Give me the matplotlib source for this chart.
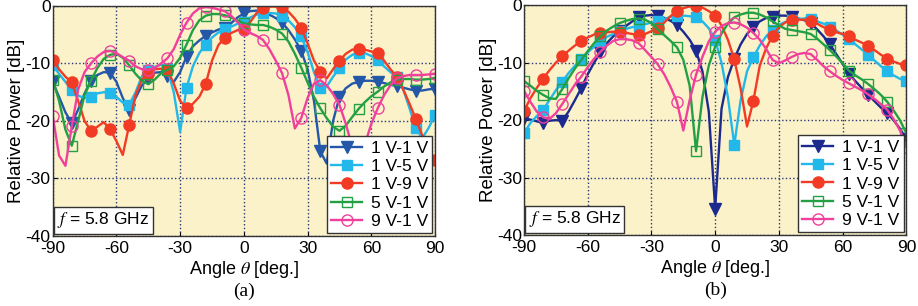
import numpy as np
import matplotlib
matplotlib.use('Agg')
import matplotlib.pyplot as plt

plt.rcParams['font.family'] = ['Liberation Sans', 'DejaVu Sans']
plt.rcParams['mathtext.fontset'] = 'stix'
plt.rcParams['axes.unicode_minus'] = False

# angles every 3 deg, markers every 9 deg
angle = np.arange(-90, 91, 3)
labels = ['1 V-1 V', '1 V-5 V', '1 V-9 V', '5 V-1 V', '9 V-1 V']

# ---- panel (a)
a_11 = [-13.2, -15.8, -18.5, -20.4, -18.0, -15.2, -13.0, -12.0, -11.5, -11.6, -13.2, -16.0,
        -18.1, -16.0, -13.8, -12.6, -11.6, -11.5, -12.2, -13.2, -11.5, -8.8, -7.0, -6.0,
        -5.2, -4.6, -4.1, -3.8, -3.0, -2.0, -1.3, -0.9, -0.8, -1.1, -1.5, -2.1,
        -2.9, -4.2, -5.8, -7.8, -11.0, -16.5, -25.3, -27.4, -20.0, -15.8, -14.3, -13.5,
        -13.2, -13.0, -13.0, -13.2, -13.4, -13.7, -13.9, -14.2, -14.5, -14.7, -14.7, -14.5, -14.4]
a_15 = [-10.3, -11.8, -13.2, -14.6, -15.6, -16.0, -15.8, -15.2, -15.0, -15.1, -15.8, -16.8,
        -17.2, -15.0, -12.2, -11.1, -10.6, -10.2, -11.0, -15.0, -21.9, -14.2, -10.5, -8.2,
        -6.7, -5.5, -4.6, -4.0, -3.6, -3.1, -2.7, -2.0, -1.5, -1.3, -1.2, -1.3,
        -1.7, -2.5, -3.7, -5.3, -8.0, -11.5, -14.2, -14.0, -12.3, -10.8, -9.3, -8.5,
        -8.1, -8.2, -8.7, -9.4, -10.5, -11.5, -12.4, -14.5, -17.8, -21.3, -23.0, -21.2, -19.0]
a_19 = [-9.4, -11.0, -12.3, -13.3, -16.5, -20.0, -21.7, -21.0, -20.2, -21.4, -23.5, -25.9,
        -20.7, -15.5, -12.8, -11.8, -11.0, -10.9, -11.1, -13.5, -16.5, -17.7, -17.0, -15.8,
        -13.6, -9.5, -6.8, -5.5, -4.7, -4.2, -4.0, -2.8, -1.2, -0.4, -0.1, -0.1,
        -0.2, -1.0, -2.2, -3.8, -6.5, -9.5, -11.4, -12.6, -11.0, -9.5, -8.3, -7.6,
        -7.4, -7.6, -7.9, -8.2, -9.5, -11.0, -12.3, -14.5, -17.0, -19.7, -22.5, -25.0, -26.8]
a_51 = [-12.8, -16.5, -21.5, -24.3, -20.0, -15.5, -13.0, -10.8, -9.2, -8.5, -8.3, -9.0,
        -10.3, -11.8, -13.0, -13.6, -12.8, -11.7, -11.1, -10.5, -9.0, -6.7, -4.2, -2.5,
        -1.7, -1.4, -1.4, -1.6, -2.0, -2.5, -3.0, -3.2, -3.3, -3.3, -3.6, -4.1,
        -4.8, -6.2, -8.3, -10.7, -13.3, -15.8, -17.8, -19.5, -21.0, -21.7, -20.8, -19.3,
        -17.9, -16.7, -15.7, -14.9, -14.0, -13.3, -12.8, -12.7, -12.7, -12.8, -12.8, -12.7, -12.5]
a_91 = [-19.1, -26.0, -27.8, -20.9, -14.5, -11.5, -10.0, -8.8, -8.0, -7.8, -8.2, -8.9,
        -9.5, -10.5, -11.0, -11.1, -10.8, -10.0, -9.1, -7.5, -5.0, -2.9, -1.3, -0.4,
        -0.2, -0.3, -0.6, -0.9, -1.7, -2.8, -4.1, -4.7, -5.2, -5.9, -7.5, -9.5,
        -11.7, -15.5, -21.3, -19.5, -16.0, -13.5, -12.9, -13.8, -15.3, -17.2, -20.5, -24.5,
        -27.0, -24.0, -20.5, -17.8, -15.5, -13.8, -12.6, -12.2, -12.0, -12.0, -12.0, -11.9, -11.8]

# ---- panel (b)
b_11 = [-19.7, -19.9, -20.2, -20.5, -20.1, -20.0, -20.1, -18.5, -16.5, -14.4, -12.0, -10.0,
        -8.2, -6.6, -5.4, -4.5, -3.6, -2.8, -2.1, -1.8, -1.7, -1.9, -2.2, -2.7,
        -3.4, -4.6, -6.0, -7.9, -11.5, -18.5, -35.4, -18.0, -12.5, -9.3, -6.8, -5.0,
        -3.7, -2.8, -2.2, -2.0, -1.8, -1.8, -2.0, -2.3, -2.6, -3.1, -4.2, -5.4,
        -6.8, -8.5, -10.2, -11.9, -13.2, -14.4, -15.6, -16.7, -17.8, -18.8, -20.0, -21.5, -23.3]
b_15 = [-22.3, -20.5, -19.3, -18.2, -16.5, -14.8, -13.3, -11.8, -10.5, -9.4, -8.2, -7.2,
        -6.3, -5.5, -5.0, -4.5, -4.1, -3.8, -3.6, -3.3, -3.0, -2.8, -2.4, -2.0,
        -1.8, -1.8, -1.9, -2.1, -2.8, -4.0, -6.0, -10.0, -16.0, -24.3, -16.5, -11.5,
        -9.0, -7.0, -5.4, -4.3, -3.4, -2.9, -2.6, -2.4, -2.3, -2.4, -2.8, -3.2,
        -3.7, -4.4, -5.1, -5.9, -6.8, -7.7, -8.6, -9.6, -10.6, -11.5, -12.2, -12.8, -13.2]
b_19 = [-18.4, -16.2, -14.4, -12.8, -11.3, -10.0, -8.9, -7.9, -7.0, -6.2, -5.6, -5.1,
        -4.8, -4.7, -4.6, -4.6, -4.8, -5.0, -5.2, -5.0, -4.5, -4.0, -3.0, -1.9,
        -1.0, -0.5, -0.2, -0.1, -0.4, -1.0, -1.8, -3.5, -6.0, -9.4, -14.5, -21.1,
        -16.6, -10.5, -7.5, -5.3, -3.8, -3.0, -2.6, -2.5, -2.5, -2.7, -3.2, -3.8,
        -4.3, -4.7, -5.0, -5.4, -6.0, -6.5, -7.1, -7.8, -8.6, -9.3, -9.8, -10.2, -10.4]
b_51 = [-13.2, -14.0, -14.9, -15.6, -16.2, -16.3, -14.6, -12.7, -11.0, -9.5, -8.0, -6.6,
        -5.4, -4.4, -3.7, -3.1, -2.7, -2.4, -2.3, -2.5, -3.1, -4.2, -5.2, -6.2,
        -7.3, -9.5, -14.0, -25.4, -16.0, -10.5, -7.2, -4.9, -3.2, -2.1, -1.6, -1.3,
        -1.3, -1.6, -2.1, -2.8, -3.5, -4.1, -4.3, -4.5, -4.7, -5.0, -5.8, -6.8,
        -7.8, -8.9, -10.1, -11.4, -12.2, -12.9, -13.7, -14.6, -15.6, -16.8, -18.3, -20.0, -22.3]
b_91 = [-14.9, -16.8, -18.5, -19.5, -19.8, -18.8, -17.2, -15.5, -13.8, -12.4, -10.8, -9.3,
        -8.1, -7.0, -6.2, -5.9, -5.9, -6.1, -6.6, -7.8, -9.0, -10.3, -12.0, -14.2,
        -16.8, -21.8, -16.5, -12.1, -9.0, -6.3, -4.6, -3.6, -3.1, -3.0, -3.3, -3.9,
        -4.8, -6.0, -7.6, -9.5, -10.1, -9.6, -9.0, -8.5, -8.3, -8.5, -9.5, -10.6,
        -11.5, -12.3, -13.0, -13.6, -14.2, -14.8, -15.5, -16.3, -17.2, -18.2, -19.8, -21.8, -24.7]

series_a = [a_11, a_15, a_19, a_51, a_91]
series_b = [b_11, b_15, b_19, b_51, b_91]
colors_a = ['#2457A8', '#22B8EA', '#F23B25', '#22A043', '#F0409C']
colors_b = ['#1B2A8C', '#22B8EA', '#F23B25', '#22A043', '#F0409C']
markers = ['v', 's', 'o', 's', 'o']
filled = [True, True, True, False, False]
msizes = [8, 7.5, 8, 7.5, 8]

fig = plt.figure(figsize=(9.18, 3.06), dpi=100)
ax_a = fig.add_axes([0.0574, 0.2288, 0.4165, 0.7516])
ax_b = fig.add_axes([0.5708, 0.2320, 0.4165, 0.7507])

for ax, series, colors, tag in [(ax_a, series_a, colors_a, '(a)'), (ax_b, series_b, colors_b, '(b)')]:
    ax.set_facecolor('#FBF2C9')
    for i, (vals, c) in enumerate(zip(series, colors)):
        ax.plot(angle, vals, color=c, lw=1.7, marker=markers[i], ms=msizes[i],
                mfc=c if filled[i] else 'none', mec=c, mew=1.0, markevery=3,
                label=labels[i])
    ax.set_xlim(-90, 90)
    ax.set_ylim(-40, 0)
    ax.set_xticks(np.arange(-90, 91, 30))
    ax.set_yticks(np.arange(-40, 1, 10))
    ax.grid(True, color='#27357A', linestyle=':', linewidth=1.0)
    ax.tick_params(direction='in', labelsize=12.5, length=3)
    ax.tick_params(axis='x', pad=3.5)
    ax.tick_params(axis='y', pad=1.5)
    for s in ax.spines.values():
        s.set_linewidth(1.0)
        s.set_color('#333333')
    ax.set_xlabel(r'Angle $\theta$ [deg.]', fontsize=13, labelpad=2)
    ax.set_ylabel('Relative Power [dB]', fontsize=13.5, labelpad=0)
    leg = ax.legend(loc='lower right', fontsize=12.5, frameon=True, fancybox=False,
                    edgecolor='#333333', framealpha=1, handlelength=1.8,
                    borderpad=0.25, labelspacing=0.18, handletextpad=0.5, borderaxespad=0.15)
    leg.get_frame().set_linewidth(1.0)
    ax.text(0.012, 0.025, r'$f$ = 5.8 GHz', transform=ax.transAxes, fontsize=12.5,
            ha='left', va='bottom',
            bbox=dict(boxstyle='square,pad=0.2', fc='white', ec='#333333', lw=1.0))
    ax.text(0.5, -0.205, tag, transform=ax.transAxes, ha='center', va='top',
            fontsize=14, family='Liberation Serif')

fig.savefig('out.png', dpi=100)
